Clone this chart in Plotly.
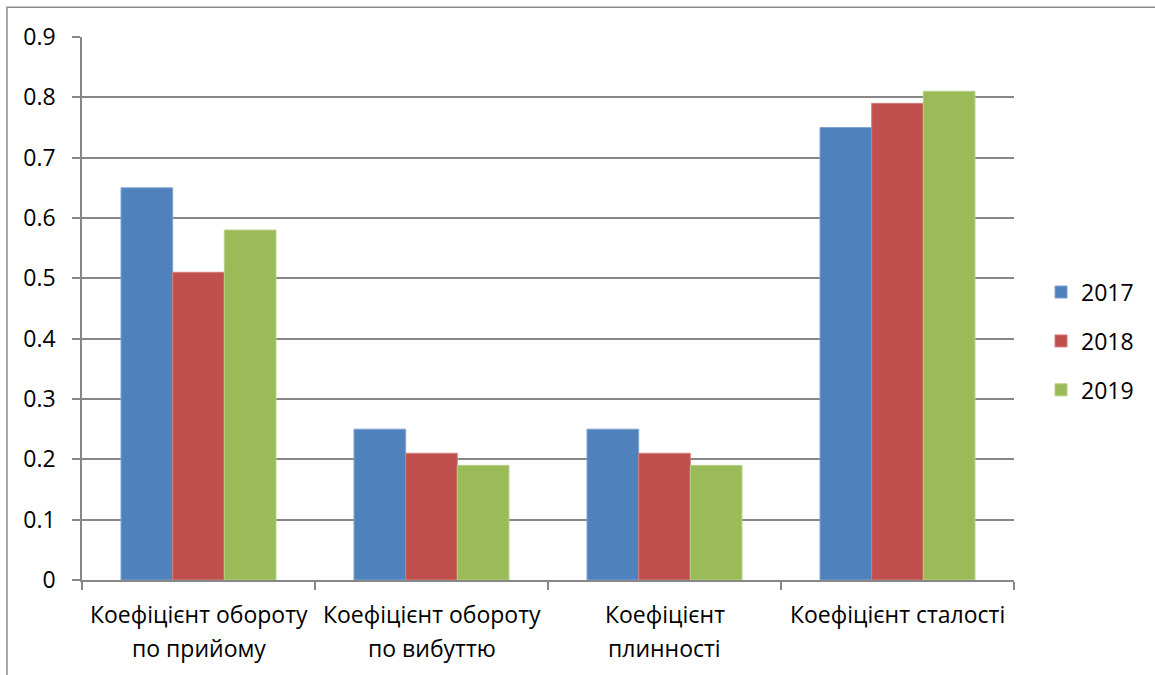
import plotly.graph_objects as go

categories = [
    "Коефіцієнт обороту по прийому",
    "Коефіцієнт обороту по вибуттю",
    "Коефіцієнт плинності",
    "Коефіцієнт сталості",
]
# category labels as they wrap under the axis
label_lines = [
    ["Коефіцієнт обороту", "по прийому"],
    ["Коефіцієнт обороту", "по вибуттю"],
    ["Коефіцієнт", "плинності"],
    ["Коефіцієнт сталості"],
]
values_2017 = [0.65, 0.25, 0.25, 0.75]
values_2018 = [0.51, 0.21, 0.21, 0.79]
values_2019 = [0.58, 0.19, 0.19, 0.81]
series = [
    ("2017", values_2017, "#4F81BD", "#7FA3D0"),
    ("2018", values_2018, "#C0504D", "#D27E7B"),
    ("2019", values_2019, "#9BBB59", "#B7CF86"),
]
y_ticks = [0, 0.1, 0.2, 0.3, 0.4, 0.5, 0.6, 0.7, 0.8, 0.9]
y_labels = ["0", "0.1", "0.2", "0.3", "0.4", "0.5", "0.6", "0.7", "0.8", "0.9"]

FONT = "'Open Sans', 'Noto Sans', sans-serif"
FS = 23
GRID = "#878787"

fig = go.Figure()
for name, vals, color, edge in series:
    fig.add_trace(go.Bar(
        name=name, x=categories, y=vals, legendgroup=name,
        marker=dict(color=color, line=dict(color=edge, width=1)),
    ))

fig.update_layout(
    width=1155, height=675,
    margin=dict(l=82, r=141, t=37, b=95),
    paper_bgcolor="white", plot_bgcolor="white",
    barmode="group", bargap=0.335, bargroupgap=0,
    font=dict(family=FONT, size=FS, color="#000000"),
    legend=dict(
        x=1.029, y=0.44, xanchor="left", yanchor="middle",
        font=dict(size=FS), itemwidth=30, tracegroupgap=16,
        bgcolor="rgba(0,0,0,0)",
    ),
    showlegend=True,
)
fig.update_yaxes(
    range=[0, 0.9], tickvals=y_ticks, ticktext=y_labels,
    showgrid=True, gridcolor=GRID, gridwidth=1.5,
    showline=True, linecolor=GRID, linewidth=1.5,
    ticks="outside", ticklen=8, tickcolor=GRID, tickwidth=1.5,
    zeroline=False, tickfont=dict(size=FS), ticklabelstandoff=12,
)
fig.update_xaxes(
    showline=True, linecolor=GRID, linewidth=1.5,
    ticks="outside", ticklen=8, tickcolor=GRID, tickwidth=1.5,
    tickson="boundaries", showticklabels=False,
    showgrid=False,
)

# category labels, one annotation per text line
line_y = [-0.0626, -0.1252]
for cat, lines in zip(categories, label_lines):
    for i, txt in enumerate(lines):
        fig.add_annotation(
            x=cat, xref="x", y=line_y[i], yref="paper",
            text=txt, showarrow=False, xanchor="center", yanchor="middle",
            font=dict(size=FS, family=FONT, color="#000000"),
        )

# outer chart border
fig.add_shape(
    type="rect", xref="paper", yref="paper",
    x0=-0.0805, x1=1.3, y0=-0.3, y1=1.055,
    line=dict(color="#8C8C8C", width=1.5), fillcolor="rgba(0,0,0,0)",
    layer="below",
)

fig.write_html("out.html")
